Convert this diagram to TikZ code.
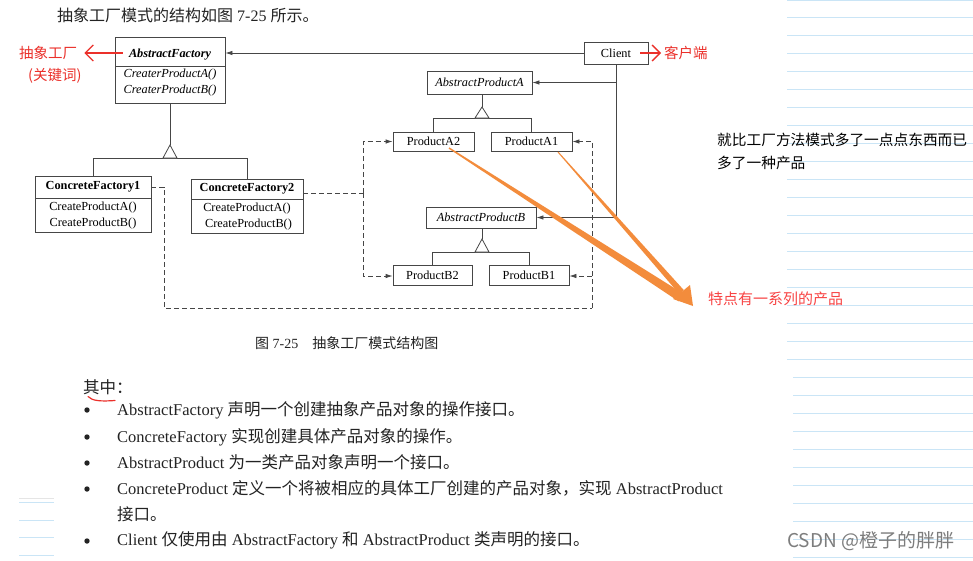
\documentclass[tikz,border=0pt]{standalone}
\usepackage{fontspec}
\setmainfont{Liberation Serif}
\newfontfamily\cjk{Noto Sans CJK SC}
\usetikzlibrary{arrows.meta,calc}
\definecolor{ln}{RGB}{70,70,70}
\definecolor{txt}{RGB}{35,35,35}
\definecolor{redA}{RGB}{235,48,42}
\definecolor{redB}{RGB}{248,68,68}
\definecolor{orng}{RGB}{243,140,60}
\definecolor{nb}{RGB}{202,229,246}
\definecolor{wmk}{RGB}{125,125,125}
\newcommand\dfs{\fontsize{12.3}{16}\selectfont}
\newcommand\bodyfs{\fontsize{16.5}{20}\selectfont}
\begin{document}
\begin{tikzpicture}[x=1pt,y=-1pt,
  cls/.style={draw=ln, line width=0.8pt, inner sep=0pt, text=black},
  conn/.style={draw=ln, line width=0.8pt},
  dsh/.style={draw=ln, line width=0.8pt, dash pattern=on 5pt off 3pt},
  arr/.style={-{Latex[length=7pt,width=4.5pt]}},
  inh/.style={draw=ln, line width=0.8pt, fill=white},
  txtnode/.style={inner sep=0pt, anchor=base west, text=txt},
  redarr/.style={draw=redA, line width=1.3pt, -{Straight Barb[length=8pt,width=16pt]}},
]
\useasboundingbox (0,0) rectangle (973,560);
\fill[white] (0,0) rectangle (973,560);

% notebook lines
\draw[nb, line width=1pt] (787,0.5) -- (973,0.5);
\foreach \k in {1,...,20} \draw[nb, line width=1pt] (787,{18*\k-0.7}) -- (973,{18*\k-0.7});
\foreach \k in {21,...,31} \draw[nb, line width=1pt] (793,{18*\k-0.7}) -- (973,{18*\k-0.7});
\draw[gray!20, line width=0.8pt] (19,498) -- (54,498);
\foreach \y in {502,520,537,555} \draw[nb, line width=1pt] (19,\y) -- (54,\y);

% title
\node[txtnode, font=\fontsize{16}{20}\selectfont] (title) at (57,21) {{\cjk 抽象工厂模式的结构如图} 7-25 {\cjk 所示。}};

% classes
\node[cls, minimum width=110pt, minimum height=29pt, text height=11pt, text depth=0pt, font=\dfs\bfseries\itshape] (afh) at (170,51.5) {AbstractFactory};
\node[cls, minimum width=110pt, minimum height=37pt, anchor=north] (afb) at (afh.south) {};
\node[inner sep=0pt, align=center, font=\dfs\itshape] (afm) at (170,82.5) {CreaterProductA()\\CreaterProductB()};

\node[cls, minimum width=64pt, minimum height=22pt, font=\dfs] (client) at (616,53) {Client};

\node[cls, minimum width=116pt, minimum height=22pt, font=\dfs\bfseries] (cf1h) at (93,187) {ConcreteFactory1};
\node[cls, minimum width=116pt, minimum height=34pt, anchor=north, align=center, font=\dfs] (cf1b) at (cf1h.south) {CreateProductA()\\CreateProductB()};
\node[cls, minimum width=112pt, minimum height=20pt, font=\dfs\bfseries] (cf2h) at (247,189) {ConcreteFactory2};
\node[cls, minimum width=112pt, minimum height=34pt, anchor=north, align=center, font=\dfs] (cf2b) at (cf2h.south) {CreateProductA()\\\ CreateProductB()};

\node[cls, minimum width=105pt, minimum height=23pt, font=\dfs\itshape] (apa) at (479.5,82.5) {AbstractProductA};
\node[cls, minimum width=110pt, minimum height=21pt, font=\dfs\itshape] (apb) at (481,217.5) {AbstractProductB};
\node[cls, minimum width=81pt, minimum height=19pt, font=\dfs] (a2) at (433.5,141.5) {ProductA2};
\node[cls, minimum width=81pt, minimum height=19pt, font=\dfs] (a1) at (531.5,141.5) {ProductA1};
\node[cls, minimum width=79pt, minimum height=20pt, font=\dfs] (b2) at (432.5,275) {ProductB2};
\node[cls, minimum width=80pt, minimum height=20pt, font=\dfs] (b1) at (529,275) {ProductB1};

% associations from client
\draw[conn, arr] (client.west) -- (client.west -| afh.east);
\draw[conn, arr] (client.south) |- (apb.east);
\draw[conn, arr] (client.south |- apa.east) -- (apa.east);

% inheritance AbstractFactory
\coordinate (tf) at (170,145);
\coordinate (hf) at (0,158);
\draw[conn] (afb.south) -- (tf);
\draw[conn] (cf1h.north) -- (cf1h.north |- hf) -- (cf2h.north |- hf) -- (cf2h.north);
\draw[inh] (tf) -- ++(-7,13) -- ++(14,0) -- cycle;

% inheritance A
\coordinate (ta) at (482,107);
\coordinate (ha) at (0,118);
\draw[conn] (ta |- apa.south) -- (ta);
\draw[conn] (a2.north) -- (a2.north |- ha) -- (a1.north |- ha) -- (a1.north);
\draw[inh] (ta) -- ++(-7,11) -- ++(14,0) -- cycle;

% inheritance B
\coordinate (tb) at (482,239);
\coordinate (hb) at (0,252);
\draw[conn] (tb |- apb.south) -- (tb);
\draw[conn] (b2.north) -- (b2.north |- hb) -- (b1.north |- hb) -- (b1.north);
\draw[inh] (tb) -- ++(-7,13) -- ++(14,0) -- cycle;

% dashed creation links
\coordinate (j2) at (363,193);
\draw[dsh] ([yshift=-4pt]cf2h.east) -- (j2);
\draw[dsh, arr] (j2) |- (a2.west);
\draw[dsh, arr] (j2) |- ([yshift=-1pt]b2.west);
\coordinate (c1) at (164,308);
\coordinate (c2) at (592,308);
\draw[dsh] (cf1h.east) -| (c1) -- (c2);
\draw[dsh, arr] (c2) |- (a1.east);
\draw[dsh, arr] ([yshift=-1pt]b1.east -| c2) -- ([yshift=-1pt]b1.east);

% caption and body text
\node[txtnode, font=\fontsize{14}{18}\selectfont] (cap) at (255,348) {{\cjk 图} 7-25\hspace{14pt}{\cjk 抽象工厂模式结构图}};
\node[txtnode, font=\bodyfs] (qz) at (83,393) {{\cjk 其中：}};
\draw[redA, line width=1.2pt, line cap=round] (88,396.5) .. controls (92,401) and (101,401.5) .. (115,400.5);

\foreach \y in {410,437,463,489,541} \fill[txt] (87,\y) circle (2.7pt);
\node[txtnode, font=\bodyfs] (l1) at (117,415.5) {AbstractFactory {\cjk 声明一个创建抽象产品对象的操作接口。}};
\node[txtnode, font=\bodyfs] (l2) at (117,442.5) {ConcreteFactory {\cjk 实现创建具体产品对象的操作。}};
\node[txtnode, font=\bodyfs] (l3) at (117,468.5) {AbstractProduct {\cjk 为一类产品对象声明一个接口。}};
\node[txtnode, font=\bodyfs] (l4) at (117,494.5) {ConcreteProduct {\cjk 定义一个将被相应的具体工厂创建的产品对象，实现} AbstractProduct};
\node[txtnode, font=\bodyfs] (l5) at (117,520.5) {{\cjk 接口。}};
\node[txtnode, font=\bodyfs] (l6) at (117,545.5) {Client {\cjk 仅使用由} AbstractFactory {\cjk 和} AbstractProduct {\cjk 类声明的接口。}};

% red annotations
\node[inner sep=0pt, anchor=west, text=redA, font=\cjk\fontsize{14.5}{18}\selectfont] (lblaf) at (19,53) {抽象工厂};
\node[inner sep=0pt, anchor=west, text=redA, font=\cjk\fontsize{14.5}{18}\selectfont] (lblkw) at (28,76) {(关键词)};
\node[inner sep=0pt, anchor=west, text=redA, font=\cjk\fontsize{14.5}{18}\selectfont] (lblcl) at (664,53) {客户端};
\draw[redarr] ([xshift=8pt,yshift=-1.5pt]afh.west) -- ([xshift=7pt]lblaf.east);
\draw[redarr] ([xshift=-8pt]client.east) -- ([xshift=-3pt]lblcl.west);

% right notes
\node[inner sep=0pt, anchor=west, text=black, font=\cjk\fontsize{14.7}{18}\selectfont] (note1) at (717,140) {就比工厂方法模式多了一点点东西而已};
\node[inner sep=0pt, anchor=west, text=black, font=\cjk\fontsize{14.7}{18}\selectfont] (note2) at (717,163) {多了一种产品};
\node[inner sep=0pt, anchor=west, text=redB, font=\cjk\fontsize{15}{18}\selectfont] (feat) at (708,299) {特点有一系列的产品};

% orange arrows
\coordinate (oa2) at (449,148);
\coordinate (oa1) at (558,152);
\coordinate (otip) at (693,306);
\coordinate (obase) at (681.5,292);
\coordinate (oe2) at (681,297.5);
\fill[orng] ($(oa1)!0.5pt!90:(obase)$) -- ($(obase)!3pt!-90:(oa1)$) -- ($(obase)!3pt!90:(oa1)$) -- ($(oa1)!0.5pt!-90:(obase)$) -- cycle;
\fill[orng] ($(oa2)!0.7pt!90:(oe2)$) -- ($(oe2)!4.5pt!-90:(oa2)$) -- ($(oe2)!4.5pt!90:(oa2)$) -- ($(oa2)!0.7pt!-90:(oe2)$) -- cycle;
\fill[orng] (otip) -- ($(obase)!11pt!90:(otip)$) -- ($(obase)!11pt!-90:(otip)$) -- cycle;

% watermark
\node[inner sep=0pt, anchor=west, text=wmk, font=\cjk\fontsize{19}{22}\selectfont] (wm) at (787,541) {CSDN @橙子的胖胖};
\end{tikzpicture}
\end{document}
